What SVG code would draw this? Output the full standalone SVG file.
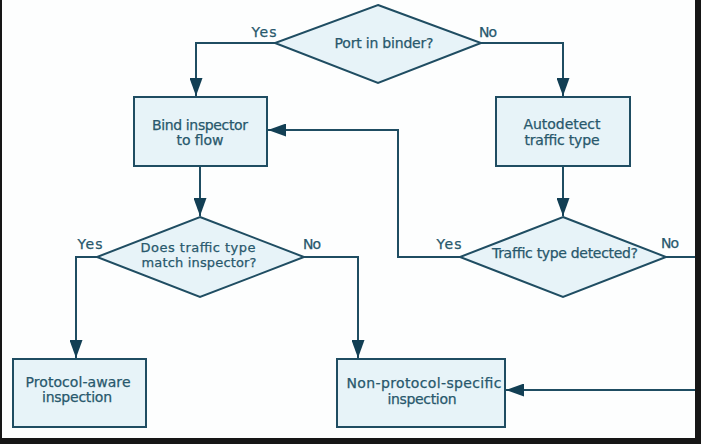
<svg xmlns="http://www.w3.org/2000/svg" width="701" height="444" viewBox="0 0 701 444">
  <style>
    .shape { fill: #e7f3f8; stroke: #1f4d62; stroke-width: 2; }
    .line { fill: none; stroke: #1f4d62; stroke-width: 2; }
    .t { font-family: "DejaVu Sans", "Liberation Sans", sans-serif; font-size: 14px; fill: #28586c; text-anchor: middle; stroke: #28586c; stroke-width: 0.25; }
    .s { font-size: 13px; }
    .lbl { font-family: "DejaVu Sans", "Liberation Sans", sans-serif; font-size: 14px; fill: #28586c; text-anchor: middle; stroke: #28586c; stroke-width: 0.25; }
  </style>
  <defs>
    <marker id="arrow" viewBox="0 0 18 13" refX="18" refY="6.5" markerWidth="18" markerHeight="13" markerUnits="userSpaceOnUse" orient="auto">
      <path d="M0,0 L18,6.5 L0,13 z" fill="#123f54"/>
    </marker>
  </defs>
  <rect x="0" y="0" width="701" height="444" fill="#fdfefe"/>

  <g id="connectors">
    <path class="line" d="M275,43 H196 V96" marker-end="url(#arrow)"/>
    <path class="line" d="M481,43 H563 V96" marker-end="url(#arrow)"/>
    <path class="line" d="M200,166 V216" marker-end="url(#arrow)"/>
    <path class="line" d="M563,166 V216" marker-end="url(#arrow)"/>
    <path class="line" d="M460,257 H398 V130 H268" marker-end="url(#arrow)"/>
    <path class="line" d="M97,257 H76 V358" marker-end="url(#arrow)"/>
    <path class="line" d="M304,257 H358 V358" marker-end="url(#arrow)"/>
    <path class="line" d="M666,257 H701"/>
    <path class="line" d="M701,390 H506" marker-end="url(#arrow)"/>
    <text class="lbl" x="264" y="37" textLength="25">Yes</text>
    <text class="lbl" x="488" y="37" textLength="18">No</text>
    <text class="lbl" x="90" y="249" textLength="25">Yes</text>
    <text class="lbl" x="312" y="249" textLength="18">No</text>
    <text class="lbl" x="449" y="249" textLength="25">Yes</text>
    <text class="lbl" x="670" y="248" textLength="18">No</text>
  </g>

  <g id="port-in-binder">
    <polygon class="shape" points="378,5 481,43 378,83 275,43"/>
    <text class="t" x="384" y="48" textLength="99">Port in binder?</text>
  </g>

  <g id="bind-inspector">
    <rect class="shape" x="134" y="97" width="133" height="69"/>
    <text class="t" x="200" y="130" textLength="96">Bind inspector</text>
    <text class="t" x="200" y="145" textLength="47">to flow</text>
  </g>

  <g id="autodetect">
    <rect class="shape" x="496" y="97" width="134" height="69"/>
    <text class="t" x="562" y="129" textLength="77">Autodetect</text>
    <text class="t" x="562" y="145" textLength="75">traffic type</text>
  </g>

  <g id="traffic-match">
    <polygon class="shape" points="200,217 304,257 200,297 97,257"/>
    <text class="t s" x="198" y="252" textLength="115">Does traffic type</text>
    <text class="t s" x="199" y="267" textLength="115">match inspector?</text>
  </g>

  <g id="traffic-detected">
    <polygon class="shape" points="563,217 666,257 563,297 460,257"/>
    <text class="t" x="565" y="258" textLength="146">Traffic type detected?</text>
  </g>

  <g id="protocol-aware">
    <rect class="shape" x="13" y="359" width="133" height="68"/>
    <text class="t" x="78" y="387" textLength="105">Protocol-aware</text>
    <text class="t" x="77" y="402" textLength="70">inspection</text>
  </g>

  <g id="non-protocol">
    <rect class="shape" x="337" y="359" width="168" height="68"/>
    <text class="t" x="424" y="388" textLength="155">Non-protocol-specific</text>
    <text class="t" x="422" y="404" textLength="69">inspection</text>
  </g>

  <rect x="695" y="0" width="6" height="444" fill="#161616"/>
  <rect x="0" y="438" width="701" height="6" fill="#161616"/>
  <rect x="0" y="0" width="2" height="444" fill="#161616"/>
</svg>
